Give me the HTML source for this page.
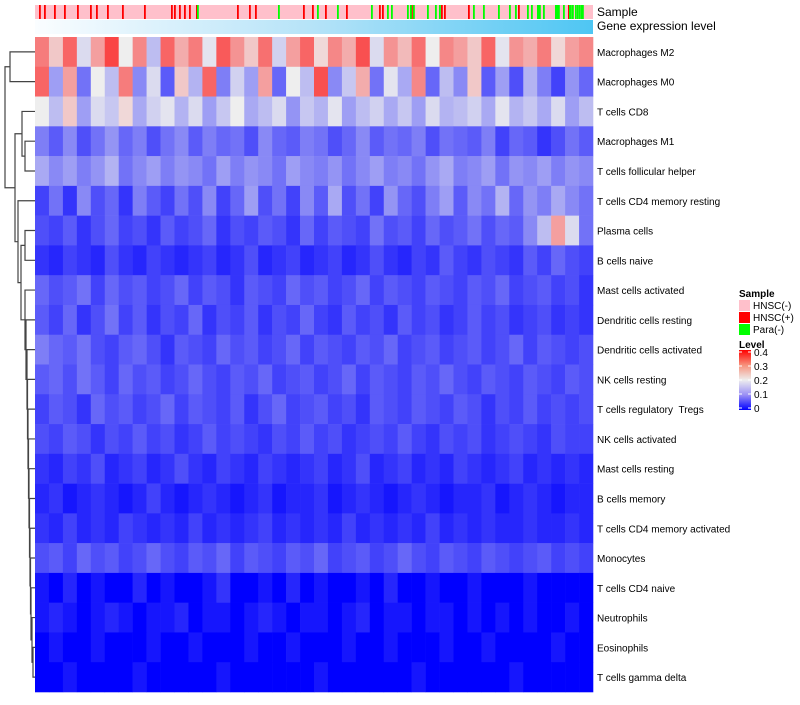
<!DOCTYPE html>
<html><head><meta charset="utf-8"><style>
body{margin:0;background:#fff;width:800px;height:700px;overflow:hidden;font-family:"Liberation Sans",sans-serif}
svg text{font-family:"Liberation Sans",sans-serif}
</style></head><body>
<svg id="chart" width="800" height="700" viewBox="0 0 800 700" xmlns="http://www.w3.org/2000/svg">
<defs>
<linearGradient id="geneGrad" x1="0" x2="1" y1="0" y2="0"><stop offset="0" stop-color="#fafdff"/><stop offset="0.5" stop-color="#b5e3f8"/><stop offset="1" stop-color="#4ec6f3"/></linearGradient>
<linearGradient id="levelGrad" x1="0" x2="0" y1="1" y2="0"><stop offset="0" stop-color="#0000ff"/><stop offset="0.25" stop-color="#9a8ff5"/><stop offset="0.5" stop-color="#eeeeee"/><stop offset="0.75" stop-color="#f7907a"/><stop offset="1" stop-color="#ff0000"/></linearGradient>
</defs>
<g id="dendro"></g>
<g id="cells"></g>
<g id="annot"></g>
<g id="labels"></g>
<text x="597" y="16" font-size="12">Sample</text>
<text x="597" y="30" font-size="12">Gene expression level</text>
<g>
<text x="739" y="297" font-size="10" font-weight="bold">Sample</text>
<rect x="739" y="300" width="11" height="11" fill="#ffc0cb"/>
<text x="753" y="309" font-size="10">HNSC(-)</text>
<rect x="739" y="312" width="11" height="11" fill="#ff0000"/>
<text x="753" y="321" font-size="10">HNSC(+)</text>
<rect x="739" y="324" width="11" height="11" fill="#00ff00"/>
<text x="753" y="333" font-size="10">Para(-)</text>
<text x="739" y="348" font-size="10" font-weight="bold">Level</text>
<rect x="739" y="350" width="12" height="60" fill="url(#levelGrad)"/>
<g id="levelTicks"></g>
</g>
</svg>
<script>
const rowNames=["Macrophages M2","Macrophages M0","T cells CD8","Macrophages M1","T cells follicular helper","T cells CD4 memory resting","Plasma cells","B cells naive","Mast cells activated","Dendritic cells resting","Dendritic cells activated","NK cells resting","T cells regulatory\u00a0\u00a0Tregs","NK cells activated","Mast cells resting","B cells memory","T cells CD4 memory activated","Monocytes","T cells CD4 naive","Neutrophils","Eosinophils","T cells gamma delta"];
const rowM2=[.28,.22,.30,.18,.25,.33,.20,.27,.15,.30,.24,.28,.19,.31,.26,.22,.29,.17,.25,.30,.21,.27,.24,.32,.18,.26,.23,.29,.20,.27,.25,.22,.30,.19,.26,.24,.28,.21,.25,.27];
const rowM0=[.30,.12,.25,.08,.20,.15,.28,.10,.18,.06,.22,.14,.30,.09,.17,.12,.25,.07,.20,.15,.32,.10,.16,.24,.08,.19,.13,.27,.07,.15,.10,.22,.06,.12,.05,.14,.09,.04,.11,.07];
const rowCD8=[.20,.15,.22,.12,.18,.16,.21,.13,.17,.19,.14,.18,.12,.16,.20,.13,.15,.18,.11,.16,.14,.19,.12,.15,.17,.13,.16,.12,.18,.14,.15,.17,.13,.19,.14,.16,.13,.18,.12,.15];
const rowM1=[.09,.06,.10,.05,.08,.11,.07,.09,.05,.08,.10,.06,.09,.07,.08,.05,.10,.07,.06,.09,.08,.05,.07,.10,.06,.08,.07,.09,.05,.08,.07,.06,.09,.04,.07,.06,.03,.05,.08,.06];
const rowTfh=[.13,.10,.12,.09,.11,.14,.08,.10,.12,.09,.11,.10,.08,.12,.09,.11,.10,.08,.12,.10,.09,.11,.08,.10,.12,.09,.10,.08,.11,.13,.09,.10,.12,.08,.11,.10,.12,.09,.11,.10];
const rowCD4MemRest=[.04,.08,.03,.10,.05,.07,.03,.09,.06,.04,.08,.05,.10,.04,.07,.12,.05,.08,.04,.10,.06,.13,.05,.08,.04,.11,.07,.05,.09,.12,.06,.10,.08,.14,.07,.11,.09,.13,.10,.08];
const rowPlasma=[.05,.04,.06,.03,.05,.07,.04,.05,.03,.06,.04,.05,.07,.03,.05,.04,.06,.05,.03,.07,.04,.06,.05,.04,.08,.05,.06,.04,.07,.05,.06,.08,.05,.07,.06,.10,.15,.25,.18,.08];
const rowBNaive=[.03,.02,.04,.03,.02,.05,.03,.02,.04,.03,.02,.03,.04,.02,.03,.05,.02,.03,.04,.02,.03,.04,.02,.03,.05,.03,.02,.04,.03,.06,.04,.03,.05,.04,.03,.06,.04,.07,.05,.04];
const rowMastAct=[.07,.05,.06,.08,.04,.07,.05,.06,.04,.05,.07,.04,.06,.05,.03,.06,.05,.04,.07,.05,.06,.04,.05,.07,.04,.06,.05,.04,.06,.05,.04,.06,.05,.07,.04,.05,.06,.04,.05,.03];
const rowDCRest=[.06,.04,.07,.03,.05,.08,.04,.06,.03,.05,.04,.07,.03,.05,.04,.06,.03,.05,.04,.07,.04,.03,.06,.04,.05,.03,.06,.04,.05,.03,.04,.06,.04,.05,.03,.04,.05,.03,.04,.03];
const rowDCAct=[.09,.07,.06,.08,.05,.04,.06,.07,.05,.03,.06,.05,.04,.07,.05,.06,.04,.05,.07,.04,.06,.05,.04,.06,.05,.07,.04,.05,.06,.04,.05,.06,.04,.05,.07,.04,.06,.05,.04,.05];
const rowNKRest=[.06,.07,.05,.08,.06,.04,.07,.05,.06,.04,.05,.07,.05,.04,.06,.05,.07,.04,.05,.06,.04,.05,.07,.04,.06,.05,.04,.06,.05,.07,.05,.04,.06,.05,.04,.06,.05,.04,.06,.05];
const rowTregs=[.04,.06,.05,.03,.07,.05,.06,.04,.05,.07,.04,.06,.05,.04,.06,.03,.05,.07,.04,.05,.06,.04,.05,.03,.06,.05,.04,.06,.05,.04,.06,.05,.03,.05,.04,.06,.04,.05,.04,.05];
const rowNKAct=[.05,.04,.06,.05,.03,.05,.04,.06,.04,.05,.03,.04,.06,.04,.05,.04,.03,.05,.04,.06,.04,.05,.03,.04,.05,.04,.06,.04,.03,.05,.04,.05,.03,.04,.05,.04,.03,.05,.04,.04];
const rowMastRest=[.03,.02,.04,.03,.05,.02,.03,.04,.02,.03,.05,.03,.02,.04,.03,.02,.04,.03,.02,.03,.04,.02,.03,.05,.02,.03,.04,.02,.03,.02,.04,.03,.02,.03,.04,.02,.03,.02,.03,.02];
const rowBMem=[.02,.03,.01,.02,.03,.02,.01,.02,.04,.02,.01,.02,.03,.02,.01,.02,.03,.01,.02,.02,.03,.01,.02,.03,.02,.01,.02,.03,.02,.01,.02,.02,.03,.01,.02,.03,.02,.01,.02,.02];
const rowCD4MemAct=[.03,.02,.04,.02,.03,.02,.04,.03,.02,.03,.02,.04,.02,.03,.02,.03,.04,.02,.03,.02,.03,.02,.04,.02,.03,.02,.03,.02,.04,.02,.03,.02,.03,.02,.02,.03,.02,.02,.03,.02];
const rowMono=[.05,.06,.04,.07,.05,.06,.04,.05,.07,.05,.04,.06,.05,.07,.04,.06,.05,.04,.06,.05,.07,.04,.05,.06,.04,.05,.07,.05,.04,.06,.05,.04,.06,.05,.04,.05,.06,.04,.05,.04];
const rowCD4Naive=[.01,.00,.02,.00,.01,.00,.00,.02,.00,.01,.00,.00,.01,.03,.00,.00,.01,.00,.02,.00,.01,.00,.00,.01,.00,.02,.00,.00,.01,.00,.00,.01,.00,.00,.00,.01,.00,.00,.00,.00];
const rowNeut=[.01,.02,.01,.00,.01,.02,.01,.00,.01,.01,.02,.00,.01,.01,.00,.01,.02,.01,.00,.01,.01,.00,.01,.02,.00,.01,.01,.00,.01,.01,.00,.01,.00,.01,.00,.01,.00,.00,.01,.00];
const rowEos=[.00,.01,.00,.00,.01,.00,.00,.00,.01,.00,.00,.01,.00,.00,.00,.01,.00,.00,.01,.00,.00,.00,.01,.00,.00,.01,.00,.00,.00,.01,.00,.00,.01,.00,.00,.00,.00,.01,.00,.00];
const rowTgd=[.00,.00,.01,.00,.00,.00,.00,.01,.00,.00,.00,.00,.00,.01,.00,.00,.00,.00,.00,.00,.01,.00,.00,.00,.00,.00,.00,.01,.00,.00,.00,.00,.00,.00,.01,.00,.00,.00,.00,.00];
const rowValues=[rowM2,rowM0,rowCD8,rowM1,rowTfh,rowCD4MemRest,rowPlasma,rowBNaive,rowMastAct,rowDCRest,rowDCAct,rowNKRest,rowTregs,rowNKAct,rowMastRest,rowBMem,rowCD4MemAct,rowMono,rowCD4Naive,rowNeut,rowEos,rowTgd];
const sampleCount=558;
const hnscPosCols=[4,9,19,29,42,55,61,72,87,109,136,139,144,149,154,161,202,214,220,268,277,290,311,344,347,376,406,409,433,483,533];
const paraNegCols=[162,243,282,302,336,352,356,372,375,378,392,400,404,438,448,463,474,480,492,496,502,503,504,508,520,521,522,523,528,534,535,537,540,542,544,546,547];
const levelTickVals=[0,0.1,0.2,0.3,0.4];

const NS="http://www.w3.org/2000/svg";
const X0=35,X1=593,Y0=37,Y1=692;
const rowH=(Y1-Y0)/rowNames.length;
function yRow(i){return Y0+i*rowH;}
function xCol(j,n){return X0+j*(X1-X0)/n;}
function lerp(a,b,t){return Math.round(a+(b-a)*t);}
function color(v){
  v=Math.max(0,Math.min(0.4,v));
  if(v<=0.2){let t=Math.pow(v/0.2,0.8);return `rgb(${lerp(0,238,t)},${lerp(0,238,t)},${lerp(255,238,t)})`;}
  let t=Math.pow((v-0.2)/0.2,0.8);return `rgb(${lerp(238,255,t)},${lerp(238,0,t)},${lerp(238,0,t)})`;
}
function mk(tag,attrs,parent){const e=document.createElementNS(NS,tag);for(const k in attrs)e.setAttribute(k,attrs[k]);parent.appendChild(e);return e;}

let chain=[20,21,33];
const chainRows=[19,18,17,16,15,14,13,12,11,10,9,8];
const chainX=[32,31,30.5,30,29.5,29,28.5,28,27.5,27,26,25];
chainRows.forEach((r,k)=>{chain=[r,chain,chainX[k]];});
const nodeE=[[6,7,25],chain,21];
const nodeD=[5,nodeE,18];
const nodeB=[[2,[3,4,25],22],nodeD,15];
const dendroRoot=[[0,1,10],nodeB,5];

const cells=document.getElementById('cells');
rowValues.forEach((vals,i)=>{
  const n=vals.length;
  vals.forEach((v,j)=>{
    const x=xCol(j,n),w=xCol(j+1,n)-x;
    const r=mk('rect',{x:x,y:yRow(i),width:w+0.3,height:rowH+0.3,fill:color(v)},cells);
    
    
  });
});
const labels=document.getElementById('labels');
rowNames.forEach((nm,i)=>{
  const t=mk('text',{x:597,y:yRow(i)+rowH/2+4,'font-size':10},labels);
  t.textContent=nm;
  
  
});
const annot=document.getElementById('annot');
const bg=mk('rect',{x:X0,y:5,width:X1-X0,height:14,fill:'#ffc0cb'},annot);


function stripes(cols,fill,name){
  cols.forEach(c=>{
    const x=xCol(c,sampleCount),w=xCol(c+1,sampleCount)-x;
    const r=mk('rect',{x:x,y:5,width:w+0.8,height:14,fill:fill},annot);
    
    
  });
}
stripes(hnscPosCols,'#ff0000','sample-hnsc-pos');
stripes(paraNegCols,'#00ff00','sample-para-neg');
const gb=mk('rect',{x:X0,y:20,width:X1-X0,height:14,fill:'url(#geneGrad)'},annot);



const lt=document.getElementById('levelTicks');
levelTickVals.forEach(v=>{
  const y=410-v/0.4*56-2;
  mk('line',{x1:739,x2:742,y1:y,y2:y,stroke:'#fff','stroke-width':1},lt);
  mk('line',{x1:748,x2:751,y1:y,y2:y,stroke:'#fff','stroke-width':1},lt);
  const t=mk('text',{x:754,y:y+4,'font-size':10},lt);
  t.textContent=String(v);
  
  
});

const dg=document.getElementById('dendro');
function draw(node){
  if(typeof node==='number') return {y:yRow(node)+rowH/2,x:X0};
  const a=draw(node[0]),b=draw(node[1]),h=node[2];
  const p=mk('path',{d:`M${a.x},${a.y}H${h}V${b.y}H${b.x}`,fill:'none',stroke:'#444','stroke-width':1.2},dg);
  
  
  return {y:(a.y+b.y)/2,x:h};
}
draw(dendroRoot);
</script>
</body></html>
